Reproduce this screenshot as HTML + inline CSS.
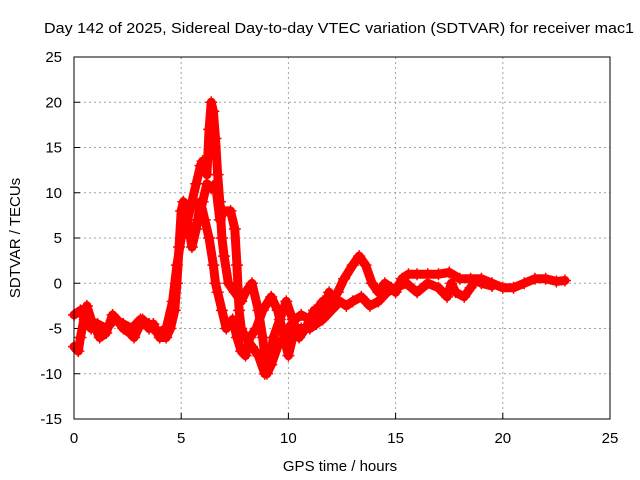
<!DOCTYPE html>
<html><head><meta charset="utf-8"><style>
body{margin:0;background:#fff}
svg{display:block;font-family:"Liberation Sans",sans-serif;font-size:15px}
</style></head><body>
<svg id="chart" width="640" height="480">
<text x="339" y="33" text-anchor="middle" textLength="590" lengthAdjust="spacingAndGlyphs">Day 142 of 2025, Sidereal Day-to-day VTEC variation (SDTVAR) for receiver mac1</text>
<text x="340" y="471" text-anchor="middle">GPS time / hours</text>
<text transform="translate(20,238) rotate(-90)" text-anchor="middle">SDTVAR / TECUs</text>
<g id="grid"></g><g id="marks"></g>
<rect x="74" y="57" width="536" height="362" fill="none" stroke="#000"/>
</svg>
<script>
const xTicks=[0,5,10,15,20,25];
const yTicks=[-15,-10,-5,0,5,10,15,20,25];
const traceA=[[0,-7],[0.2,-7.5],[0.3,-6],[0.5,-3.5],[0.6,-2.5],[0.8,-4],[1,-5],[1.2,-6],[1.5,-5.5],[1.8,-3.5],[2,-4],[2.3,-5],[2.6,-5.5],[2.8,-6],[3,-5],[3.2,-4],[3.5,-5],[3.7,-4.5],[4,-6],[4.3,-6],[4.5,-5],[4.7,-3],[4.8,0],[4.9,4],[5,8],[5.1,9],[5.3,7],[5.5,9],[5.7,11],[5.9,13],[6,13.5],[6.2,12],[6.3,17],[6.4,20],[6.5,19],[6.6,16],[6.7,12],[6.8,9],[6.9,5],[7,3],[7.2,0],[7.5,-1],[7.8,-2],[8,-1],[8.3,0],[8.6,-3],[8.8,-6],[9,-10],[9.2,-9],[9.5,-7],[9.8,-6],[10,-5],[10.3,-4],[10.6,-3.5],[11,-4],[11.3,-3],[11.6,-2],[11.8,-3],[12,-2],[12.3,-1],[12.6,0.5],[13,2],[13.3,3],[13.6,2],[13.9,0],[14.2,-1],[14.5,0],[14.8,-0.5],[15,-1],[15.3,0.5],[15.6,1],[16,1],[16.5,1],[17,1],[17.5,1.2],[18,0.5],[18.5,0.5],[19,0.5],[19.5,0],[20,-0.5],[20.5,-0.5],[21,0],[21.5,0.5],[22,0.5],[22.5,0.2],[22.9,0.3]];
const traceB=[[0,-3.5],[0.3,-3],[0.5,-4],[0.8,-5],[1.1,-4.5],[1.5,-5],[1.9,-4],[2.3,-4.5],[2.7,-5],[3.1,-4],[3.5,-4.5],[3.9,-5.5],[4.3,-5],[4.6,-2],[4.8,2],[5,5],[5.3,7],[5.5,4],[5.7,6],[5.9,9],[6.1,7],[6.3,5],[6.5,2],[6.6,0],[6.7,-1],[6.9,-3],[7.1,-5],[7.4,-4],[7.6,-6],[7.8,-7.5],[8,-8],[8.2,-6],[8.5,-5],[8.8,-3],[9.2,-1.5],[9.5,-3],[9.8,-6],[10,-8],[10.3,-5],[10.6,-5],[11,-5],[11.3,-4.5],[11.6,-4],[12,-3],[12.4,-2],[12.7,-2.5],[13,-2],[13.4,-1.5],[13.8,-2.5],[14.2,-2],[14.6,-1],[15,-0.5],[15.5,0],[16,-1],[16.5,0],[17,-0.5],[17.4,-1.5],[17.6,0],[17.8,-1],[18.2,-1.5],[18.5,-0.5],[18.7,0.3],[19,0],[19.5,-0.3]];
const traceC=[[5.8,7],[6,9],[6.2,11],[6.4,10.5],[6.6,11],[6.8,7],[7,8],[7.3,8],[7.5,6],[7.6,2],[7.7,-3],[7.8,-5],[8,-6],[8.3,-7],[8.6,-8],[8.9,-10],[9.1,-9],[9.3,-6],[9.6,-4],[9.9,-2],[10.2,-4],[10.5,-6],[10.8,-5],[11.2,-3],[11.5,-4],[11.9,-1],[12.2,-2.5]];
const traces=[traceA,traceB,traceC];
const X=t=>74+t*536/25, Y=v=>283.25-v*9.05;
const NS='http://www.w3.org/2000/svg';
const svg=document.getElementById('chart'),grid=document.getElementById('grid'),marks=document.getElementById('marks');
function mk(tag,a,p){const e=document.createElementNS(NS,tag);for(const k in a)e.setAttribute(k,a[k]);p.appendChild(e);return e;}
xTicks.forEach(t=>{const x=X(t);
 if(t>0&&t<25){const l=mk('line',{x1:x,y1:57,x2:x,y2:419,stroke:'#a0a0a0','stroke-dasharray':'2,3'},grid);
 
 }
 const tk=mk('line',{x1:x,y1:419,x2:x,y2:413,stroke:'#000'},grid);
 
 
 const tx=mk('text',{x:x,y:443,'text-anchor':'middle'},svg);tx.textContent=t;
 
 });
yTicks.forEach(v=>{const y=Y(v);
 if(v>-15&&v<25){const l=mk('line',{x1:74,y1:y,x2:610,y2:y,stroke:'#a0a0a0','stroke-dasharray':'2,3'},grid);
 
 }
 const tk=mk('line',{x1:74,y1:y,x2:80,y2:y,stroke:'#000'},grid);
 
 
 const tx=mk('text',{x:62,y:y+5,'text-anchor':'end'},svg);tx.textContent=v;
 
 });
traces.forEach((tr,i)=>{
 const pl=mk('polyline',{points:tr.map(p=>X(p[0])+','+Y(p[1])).join(' '),fill:'none',stroke:'#f00','stroke-width':9,'stroke-linejoin':'round','stroke-linecap':'round'},marks);
 
 
 tr.forEach(p=>{const x=X(p[0]),y=Y(p[1]);
  const m=mk('path',{d:`M${x-6},${y}H${x+6}M${x},${y-6}V${y+6}`,stroke:'#f00','stroke-width':1.5},marks);
  
  });
});
</script>
</body></html>
